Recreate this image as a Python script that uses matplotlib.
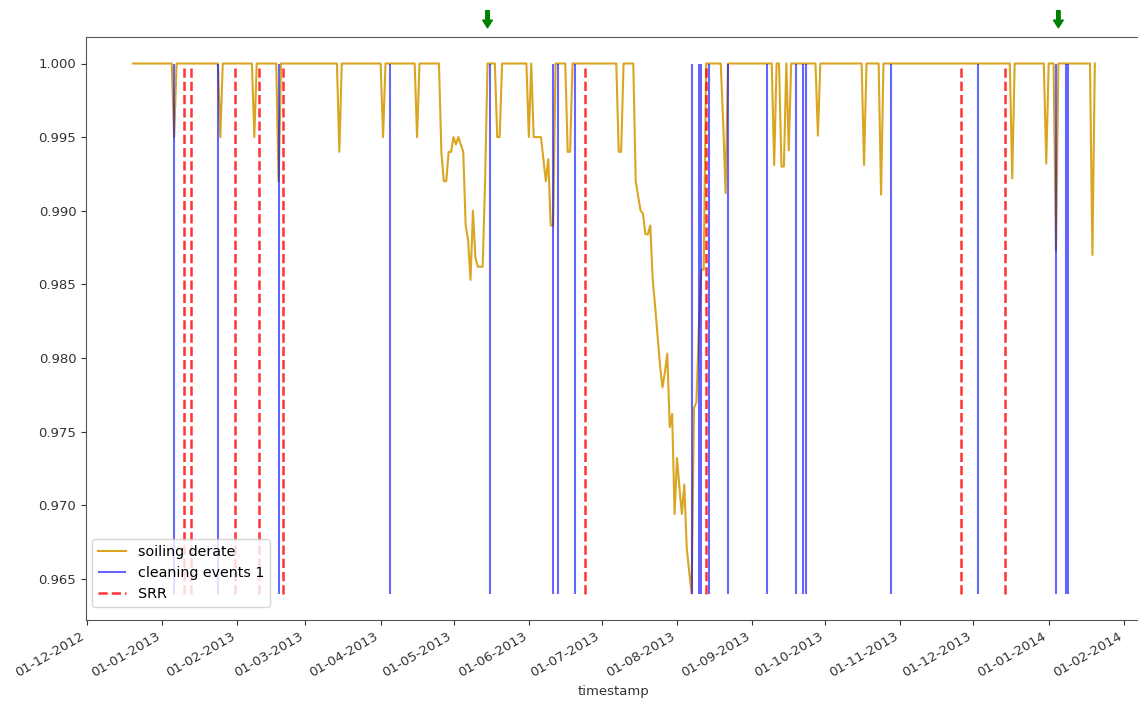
import numpy as np
import pandas as pd
import matplotlib
matplotlib.use('Agg')
import matplotlib.pyplot as plt
import matplotlib.dates as mdates

# soiling derate: daily, 1.0 everywhere except these days
start_date = '2012-12-20'
end_date = '2014-01-20'
base_value = 1.0

dip_dates = [
    '2013-01-06', '2013-01-25', '2013-02-08', '2013-02-18', '2013-03-15',
    '2013-04-02', '2013-04-16',
    '2013-04-26', '2013-04-27', '2013-04-28', '2013-04-29', '2013-04-30',
    '2013-05-01', '2013-05-02', '2013-05-03', '2013-05-04', '2013-05-05',
    '2013-05-06', '2013-05-07', '2013-05-08', '2013-05-09', '2013-05-10',
    '2013-05-11', '2013-05-12', '2013-05-13', '2013-05-14',
    '2013-05-19', '2013-05-20',
    '2013-06-01', '2013-06-03', '2013-06-04', '2013-06-05', '2013-06-06',
    '2013-06-07', '2013-06-08', '2013-06-09', '2013-06-10', '2013-06-11',
    '2013-06-17', '2013-06-18',
    '2013-07-08', '2013-07-09',
    '2013-07-15', '2013-07-16', '2013-07-17', '2013-07-18', '2013-07-19',
    '2013-07-20', '2013-07-21', '2013-07-22', '2013-07-23', '2013-07-24',
    '2013-07-25', '2013-07-26', '2013-07-27', '2013-07-28', '2013-07-29',
    '2013-07-30', '2013-07-31', '2013-08-01', '2013-08-02', '2013-08-03',
    '2013-08-04', '2013-08-05', '2013-08-06', '2013-08-07', '2013-08-08',
    '2013-08-09', '2013-08-10', '2013-08-11', '2013-08-12',
    '2013-08-20', '2013-08-21',
    '2013-09-10', '2013-09-13', '2013-09-14', '2013-09-16', '2013-09-28',
    '2013-10-17', '2013-10-24',
    '2013-12-17', '2013-12-31', '2014-01-04', '2014-01-19',
]
dip_values = [
    0.995, 0.995, 0.995, 0.992, 0.994,
    0.995, 0.995,
    0.994, 0.992, 0.992, 0.994, 0.994,
    0.995, 0.9945, 0.995, 0.9945, 0.994,
    0.989, 0.988, 0.9853, 0.990, 0.9868,
    0.9862, 0.9862, 0.9862, 0.992,
    0.995, 0.995,
    0.995, 0.995, 0.995, 0.995, 0.995,
    0.9935, 0.992, 0.9935, 0.989, 0.989,
    0.994, 0.994,
    0.994, 0.994,
    0.992, 0.991, 0.990, 0.9898, 0.9884,
    0.9884, 0.989, 0.9853, 0.9835, 0.9815,
    0.9795, 0.978, 0.979, 0.9803, 0.9753,
    0.9762, 0.9694, 0.9732, 0.9712, 0.9694,
    0.9714, 0.9671, 0.9655, 0.9640, 0.9766,
    0.977, 0.982, 0.986, 0.986,
    0.996, 0.9912,
    0.9931, 0.993, 0.993, 0.9941, 0.9951,
    0.9931, 0.9911,
    0.9922, 0.9932, 0.9873, 0.987,
]

cleaning_dates = [
    '2013-01-06', '2013-01-24', '2013-02-18', '2013-04-05', '2013-05-16',
    '2013-06-11', '2013-06-13', '2013-06-20', '2013-08-07', '2013-08-10',
    '2013-08-11', '2013-08-14', '2013-08-22', '2013-09-07', '2013-09-19',
    '2013-09-22', '2013-09-23', '2013-10-28', '2013-12-03', '2014-01-04',
    '2014-01-08', '2014-01-09',
]
srr_dates = [
    '2013-01-10', '2013-01-13', '2013-01-31', '2013-02-10', '2013-02-20',
    '2013-06-24', '2013-08-13', '2013-11-26', '2013-12-14',
]
arrow_dates = ['2013-05-15', '2014-01-05']

derate = pd.Series(base_value, index=pd.date_range(start_date, end_date, freq='D'))
derate[pd.to_datetime(dip_dates)] = dip_values

fig = plt.figure(figsize=(11.38, 7.01), dpi=100)
ax = fig.add_axes([86/1138, 1 - 620/701, (1142 - 86)/1138, (620 - 37)/701])

ax.plot(derate.index, derate.values, color='goldenrod', lw=1.5, label='soiling derate')
lo, hi = derate.min(), derate.max()
ax.vlines(pd.to_datetime(cleaning_dates), lo, hi, color='blue', alpha=0.6, lw=1.5,
          label='cleaning events 1')
ax.vlines(pd.to_datetime(srr_dates), lo, hi, color='red', alpha=0.8, lw=1.8,
          linestyles='dashed', label='SRR')

ax.set_xlim(pd.Timestamp('2012-11-30 17:00'), pd.Timestamp('2014-02-08 10:00'))
ax.xaxis.set_major_locator(mdates.MonthLocator())
ax.xaxis.set_major_formatter(mdates.DateFormatter('%d-%m-%Y'))
ax.set_yticks(np.arange(0.965, 1.0001, 0.005))
ax.yaxis.set_major_formatter(plt.FormatStrFormatter('%.3f'))
ax.tick_params(labelsize=9.5, colors='#333333')
for lab in ax.get_xticklabels():
    lab.set_rotation(30)
    lab.set_ha('right')
for sp in ax.spines.values():
    sp.set_color('#555555')
ax.set_xlabel('timestamp', fontsize=9.5, color='#333333')
ax.legend(loc='lower left', bbox_to_anchor=(0.0057, 0.022), borderaxespad=0,
          prop={'size': 10.3})

for d in arrow_dates:
    xd = mdates.date2num(pd.Timestamp(d))
    ax.annotate('', xy=(xd, 1.011), xytext=(xd, 1.05), xycoords=ax.get_xaxis_transform(),
                arrowprops=dict(arrowstyle='simple,head_width=0.7,head_length=0.55,tail_width=0.25',
                                color='green'),
                annotation_clip=False)

fig.savefig('out.png', dpi=100)
